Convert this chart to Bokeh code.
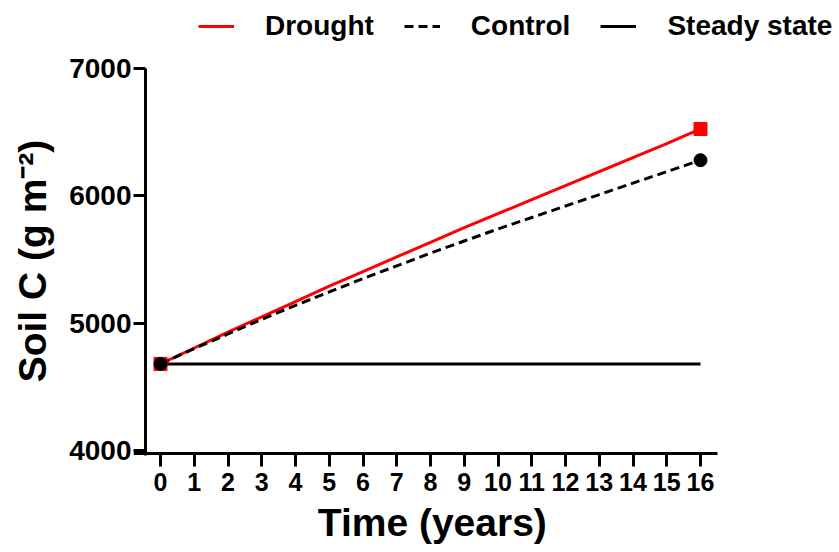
from bokeh.plotting import figure
from bokeh.models import Range1d, FixedTicker, Legend, LegendItem
from bokeh.embed import file_html
from bokeh.resources import INLINE

# ---- data ----
years = [0, 1, 2, 3, 4, 5, 6, 7, 8, 9, 10, 11, 12, 13, 14, 15, 16]
drought = [4680, 4805, 4930, 5050, 5170, 5290, 5405, 5520, 5635, 5750,
           5860, 5970, 6080, 6190, 6300, 6410, 6525]
control = [4680, 4800, 4915, 5030, 5140, 5245, 5350, 5450, 5550, 5645,
           5740, 5830, 5920, 6010, 6100, 6190, 6280]
steady_years = [0, 16]
steady = [4680, 4680]
y_ticks = [4000, 5000, 6000, 7000]
x_ticks = years
labels = ["Drought", "Control", "Steady state"]
x_title = "Time (years)"
y_title = "Soil C (g m\u207b\u00b2)"

FONT = "Liberation Sans"
RED = "#ff0000"
NBSP = "\u00a0"

# ---- layout geometry (screen pixels) ----
W, H = 839, 552
FRAME_L, FRAME_R, FRAME_T, FRAME_B = 133, 839, 0, 456
X0_PX, PX_PER_YEAR = 160, 33.75          # year 0 at x=160 px
Y_BASE_PX, PX_PER_UNIT = 450, 382 / 3000  # 4000 at y=450 px
YAXIS_PX = 145                            # vertical axis line position
XAXIS_PX = 453                            # horizontal axis line position
XAXIS_END_PX = 717
YAXIS_TOP_PX, YAXIS_BOT_PX = 68, 455


def xd(px):
    return (px - X0_PX) / PX_PER_YEAR


def yd(py):
    return y_ticks[0] + (Y_BASE_PX - py) / PX_PER_UNIT


p = figure(width=W, height=H,
           x_range=Range1d(xd(FRAME_L), xd(FRAME_R)),
           y_range=Range1d(yd(FRAME_B), yd(FRAME_T)),
           min_border_left=FRAME_L, min_border_right=W - FRAME_R,
           min_border_top=FRAME_T, min_border_bottom=H - FRAME_B,
           output_backend="svg", toolbar_location=None)

p.grid.visible = False
p.outline_line_color = None
p.background_fill_color = "white"
p.border_fill_color = "white"

# axis lines drawn as glyphs (Prism-like offset axes)
p.line([xd(YAXIS_PX), xd(YAXIS_PX)], [yd(YAXIS_TOP_PX), yd(YAXIS_BOT_PX)],
       line_color="black", line_width=3)
p.line([xd(FRAME_L), xd(XAXIS_END_PX)], [yd(XAXIS_PX), yd(XAXIS_PX)],
       line_color="black", line_width=3)

# data lines
r_steady = p.line(steady_years, steady, line_color="black", line_width=3)
r_drought = p.line(years, drought, line_color=RED, line_width=3)
r_control = p.line(years, control, line_color="black", line_width=3,
                   line_dash="9 5")

# endpoint markers
p.scatter([years[0], years[-1]], [drought[0], drought[-1]], marker="square",
          size=13, fill_color=RED, line_color=RED)
p.scatter([years[0], years[-1]], [control[0], control[-1]], marker="circle",
          size=13, fill_color="black", line_color="black")

for ax in (p.xaxis[0], p.yaxis[0]):
    ax.axis_line_color = None
    ax.major_tick_line_width = 3
    ax.major_tick_line_color = "black"
    ax.minor_tick_line_color = None
    ax.major_label_text_font = FONT
    ax.major_label_text_font_style = "bold"
    ax.major_label_text_color = "black"
    ax.axis_label_text_font = FONT
    ax.axis_label_text_font_style = "bold"
    ax.axis_label_text_color = "black"

p.yaxis.major_tick_in = YAXIS_PX - FRAME_L
p.yaxis.major_tick_out = 0
p.xaxis.major_tick_in = FRAME_B - XAXIS_PX
p.xaxis.major_tick_out = 10

p.xaxis.ticker = FixedTicker(ticks=x_ticks)
p.yaxis.ticker = FixedTicker(ticks=y_ticks)
p.xaxis.major_label_text_font_size = "25px"
p.yaxis.major_label_text_font_size = "28px"
p.xaxis.major_label_standoff = 6
p.yaxis.major_label_standoff = 2
# trailing no-break spaces shift the centred titles onto the visible axes
p.xaxis.axis_label = x_title + NBSP * 10
p.yaxis.axis_label = y_title + NBSP * 6
p.xaxis.axis_label_text_font_size = "39px"
p.yaxis.axis_label_text_font_size = "39px"
p.xaxis.axis_label_standoff = 7
p.yaxis.axis_label_standoff = 12

legend = Legend(items=[LegendItem(label=labels[0], renderers=[r_drought]),
                       LegendItem(label=labels[1], renderers=[r_control]),
                       LegendItem(label=labels[2], renderers=[r_steady])],
                orientation="horizontal", location=(198 - FRAME_L, FRAME_B - 42),
                margin=0, padding=0, border_line_color=None,
                background_fill_alpha=0,
                glyph_width=36, glyph_height=30, label_height=30,
                label_standoff=31, spacing=30,
                label_text_font=FONT, label_text_font_style="bold",
                label_text_font_size="28px", label_text_color="black")
p.add_layout(legend, "center")

open("out.html", "w").write(file_html(p, INLINE))
